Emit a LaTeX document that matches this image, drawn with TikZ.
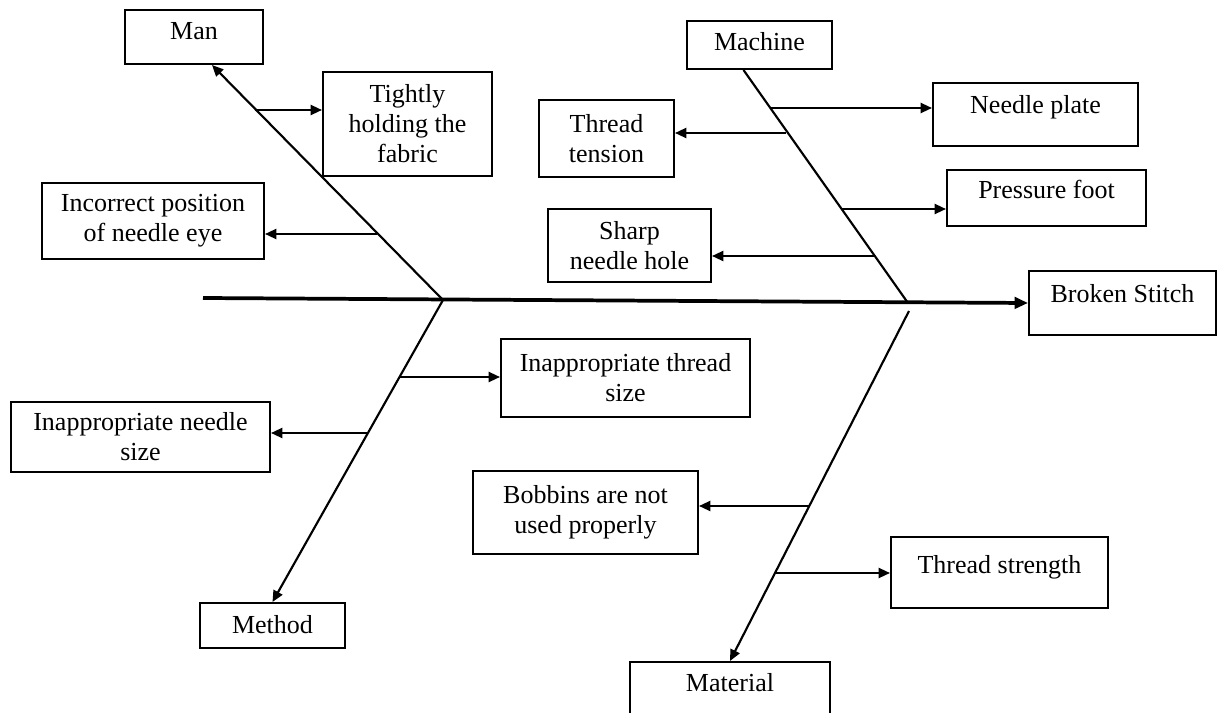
\documentclass[tikz,border=0pt]{standalone}
\usepackage{fontspec}
\setmainfont{Liberation Serif}
\usetikzlibrary{arrows.meta,calc}
\begin{document}
\begin{tikzpicture}[x=0.75pt,y=-0.75pt,
  box/.style={draw,line width=1.5pt,inner sep=0pt,align=center,font=\fontsize{19.5}{22.5}\selectfont},
  one/.style={text height=13.5pt,text depth=#1},
  one/.default=4.5pt,
  wh/.style 2 args={minimum width=#1*0.75pt,minimum height=#2*0.75pt},
  bone/.style={line width=1.6pt},
  spine/.style={line width=2.8pt,-{Triangle[length=10pt,width=8.5pt]}},
  arr/.style={line width=1.6pt,-{Triangle[length=8.5pt,width=7.5pt]}}]
\useasboundingbox (0,0) rectangle (1218,713);

% boxes
\node[box,one=10pt,wh={138}{54}] (man) at (194,37) {Man};
\node[box,wh={169}{104}] (tight) at (407.5,124) {Tightly\\holding the\\fabric};
\node[box,wh={222}{76}] (eye) at (153,221) {Incorrect position\\of needle eye};
\node[box,one,wh={145}{48}] (machine) at (759.5,45) {Machine};
\node[box,one=15pt,wh={205}{63}] (plate) at (1035.5,114.5) {Needle plate};
\node[box,wh={135}{77}] (tension) at (606.5,138.5) {Thread\\tension};
\node[box,one=12pt,wh={199}{56}] (foot) at (1046.5,198) {Pressure foot};
\node[box,wh={163}{73}] (hole) at (629.5,245.5) {Sharp\\needle hole};
\node[box,one=15pt,wh={187}{64}] (effect) at (1122.5,303) {Broken Stitch};
\node[box,wh={249}{78}] (tsize) at (625.5,378) {Inappropriate thread\\size};
\node[box,wh={259}{70}] (nsize) at (140.5,437) {Inappropriate needle\\size};
\node[box,wh={225}{83}] (bobbin) at (585.5,512.5) {Bobbins are not\\used properly};
\node[box,one=12pt,wh={217}{71}] (strength) at (999.5,572.5) {Thread strength};
\node[box,one=2.25pt,wh={145}{45}] (method) at (272.5,625.5) {Method};
\node[box,one=17pt,wh={200}{63}] (material) at (730,693.5) {Material};

% spine and main bones
\coordinate (tail) at (203,298);
\coordinate (J1) at (443,300);
\coordinate (J2) at (908,303);
\coordinate (J2b) at (909,311);
\draw[spine] (tail) -- (effect.west);
\draw[arr] (J1) -- ($(man.south)+(18,0)$);
\draw[arr] (J1) -- (method.north);
\draw[bone] (J2) -- ($(machine.south)+(-16,0)$);
\draw[arr] (J2b) -- (material.north);

% sub-causes
\coordinate (b1) at (255,110);
\coordinate (b2) at (377,234);
\coordinate (b3) at (771,108);
\coordinate (b4) at (786,133);
\coordinate (b5) at (841,209);
\coordinate (b6) at (875,256);
\coordinate (b7) at (399,377);
\coordinate (b8) at (368,433);
\coordinate (b9) at (809,506);
\coordinate (b10) at (775,573);
\draw[arr] (b1) -- (b1 -| tight.west);
\draw[arr] (b2) -- (b2 -| eye.east);
\draw[arr] (b3) -- (b3 -| plate.west);
\draw[arr] (b4) -- (b4 -| tension.east);
\draw[arr] (b5) -- (b5 -| foot.west);
\draw[arr] (b6) -- (b6 -| hole.east);
\draw[arr] (b7) -- (b7 -| tsize.west);
\draw[arr] (b8) -- (b8 -| nsize.east);
\draw[arr] (b9) -- (b9 -| bobbin.east);
\draw[arr] (b10) -- (b10 -| strength.west);
\end{tikzpicture}
\end{document}
